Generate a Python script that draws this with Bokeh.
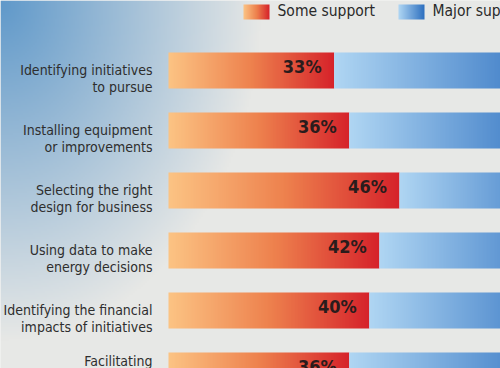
import numpy as np
from bokeh.plotting import figure
from bokeh.models import Range1d, ColumnDataSource
from bokeh.embed import file_html
from bokeh.resources import INLINE
from bokeh.core.properties import value

# ---------------- data ----------------
# category labels, one list of lines per bar (last label continues below the visible area)
labels = [["Identifying initiatives", "to pursue"],
          ["Installing equipment", "or improvements"],
          ["Selecting the right", "design for business"],
          ["Using data to make", "energy decisions"],
          ["Identifying the financial", "impacts of initiatives"],
          ["Facilitating", "", ""]]
some_support = [33, 36, 46, 42, 40, 36]
major_support = [45, 42, 36, 40, 41, 44]   # mostly cut off in the picture (estimated)
series_names = ["Some support", "Major support"]

FONT = "DejaVu Sans Condensed, Roboto, sans-serif"

# ---------------- helpers ----------------
def gradient(stops, n=256):
    t = np.linspace(0, 1, n)
    pos = [s[0] for s in stops]
    rgb = np.stack([np.interp(t, pos, [s[1][k] for s in stops]) for k in range(3)], axis=-1)
    img = np.empty((1, n), dtype=np.uint32)
    v = img.view(np.uint8).reshape(1, n, 4)
    v[0, :, :3] = rgb.astype(np.uint8)
    v[0, :, 3] = 255
    return img

orange_grad = gradient([(0, (252, 196, 132)), (0.5, (238, 130, 78)), (1, (214, 34, 42))])
blue_grad = gradient([(0, (176, 214, 243)), (1, (46, 112, 192))])

# page-pixel mapping (for ranges only)
WID, HEI = 500, 368
X0, PXU = 168.0, 5.02     # page x of value 0, pixels per percent
Y0, PYU = 70.0, 60.0      # page y of first row, pixels per row
xr = Range1d((0 - X0) / PXU, (WID - X0) / PXU)
yr = Range1d((HEI - Y0) / PYU, (0 - Y0) / PYU)   # flipped

p = figure(width=WID, height=HEI, x_range=xr, y_range=yr,
           toolbar_location=None, output_backend="svg", min_border=0,
           background_fill_color="#e7e8e6", border_fill_color="#e7e8e6",
           outline_line_color=None)
p.axis.visible = False
p.grid.visible = False

# background: blue glow in top-left corner
H, W = 184, 250
cols = np.linspace(0, WID, W)
rows = np.linspace(0, HEI, H)
PX, PY = np.meshgrid(cols, rows)
d = np.sqrt((PX / 260.0) ** 2 + (PY / 340.0) ** 2)
w = np.clip(1 - d, 0, 1) ** 1.0
blue = np.array([96, 153, 202.0])
gray = np.array([231, 232, 230.0])
rgb = gray + (blue - gray) * w[..., None]
bg = np.empty((H, W), dtype=np.uint32)
bv = bg.view(np.uint8).reshape(H, W, 4)
bv[..., :3] = rgb.astype(np.uint8)
bv[..., 3] = 255
p.image_rgba(image=[bg], x=xr.start, y=yr.end, dw=xr.end - xr.start, dh=yr.start - yr.end)

n = len(some_support)
idx = list(range(n))
bar_h = 0.6

# bars
p.image_rgba(image=[orange_grad] * n, x=[0] * n, y=[i - bar_h / 2 for i in idx],
             dw=some_support, dh=[bar_h] * n)
p.image_rgba(image=[blue_grad] * n, x=some_support, y=[i - bar_h / 2 for i in idx],
             dw=major_support, dh=[bar_h] * n)

# percent labels
src = ColumnDataSource(dict(
    x=[s - 2.5 for s in some_support], y=[i - 0.06 for i in idx],
    t=[f"{s}%" for s in some_support]))
p.text(x="x", y="y", text="t", source=src, text_align="right", text_baseline="middle",
       text_font=value(FONT), text_font_style="bold",
       text_font_size="18px", text_color="#2a1c1c")

# category labels (multi-line blocks centred on each bar)
lx = (152 - X0) / PXU
line_gap = 0.285
tx, ty, tt = [], [], []
for i, lines in enumerate(labels):
    m = len(lines)
    for k, line in enumerate(lines):
        if not line:
            continue
        tx.append(lx)
        ty.append(i + 0.128 + (k - (m - 1) / 2) * line_gap)
        tt.append(line)
p.text(x=tx, y=ty, text=tt, text_align="right", text_baseline="middle",
       text_font=value(FONT), text_font_size="14px", text_color="#2e2e2e")

# legend
def vx(px):
    return (px - X0) / PXU

def vy(py):
    return (py - Y0) / PYU

sq_top, sq_bot = vy(4), vy(19)
p.image_rgba(image=[orange_grad, blue_grad], x=[vx(243), vx(398)], y=[sq_top, sq_top],
             dw=[vx(269) - vx(243), vx(424) - vx(398)], dh=[sq_bot - sq_top] * 2)
p.text(x=[vx(277), vx(432)], y=[vy(10.5)] * 2, text=series_names,
       text_align="left", text_baseline="middle",
       text_font=value(FONT), text_font_size="15.5px",
       text_color="#2a2a2a")

open("out.html", "w").write(file_html(p, INLINE))
